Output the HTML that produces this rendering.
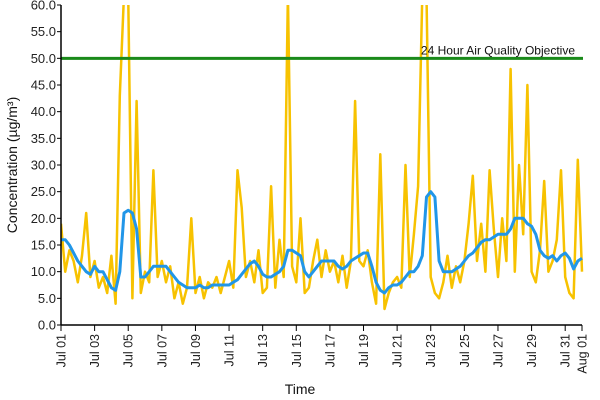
<!DOCTYPE html>
<html><head><meta charset="utf-8"><style>
body{margin:0;background:#fff;}
svg{display:block;font-family:"Liberation Sans",Arial,sans-serif;}
</style></head><body>
<svg id="chart" width="600" height="400" viewBox="0 0 600 400" xmlns="http://www.w3.org/2000/svg">
<g id="grid"></g>
<g id="series"></g>
<g id="axes"></g>
</svg>
<script>
const hourlyValues = [19,10,14,12,8,13,21,9,12,7,9,6,13,4,43,62,62,5,42,6,10,8,29,9,12,8,11,5,8,4,7,20,6,9,5,8,7,9,6,9,12,7,29,22,9,12,8,14,6,7,26,7,16,9,62,11,8,20,6,7,12,16,9,14,10,12,8,13,7,12,42,12,11,14,8,4,32,3,6,8,9,7,30,9,17,26,62,62,9,6,5,8,13,7,11,8,12,19,28,12,19,10,29,18,9,20,12,48,10,30,17,45,10,8,14,27,10,12,16,29,9,6,5,31,10];
const rollingMean = [16,16,15,13.5,12,11,10,9.5,11,10,10,8.5,7,6.5,10,21,21.5,21,18,9,9,10,11,11,11,11,10,9,8,7.5,7,7,7,7.5,7,7,7.5,7.5,7.5,7.5,7.5,8,8.5,9.5,10.5,11.5,12,11,9.5,9,9,9.5,10,11,14,14,13.5,13,10,9,10,11,12,12,12,12,11,10.5,11,12,12.5,13,13.5,13.5,11,8,6.5,6,7,7.5,7.5,8,9,10,10,11,13,24,25,24,12,10,10,10,10.5,11,12,13,13.5,14.5,15.5,16,16,16.5,17,17,17,18,20,20,20,19,18.5,17,14,13,12.5,13,12,13,13.5,12.5,10.5,12,12.5];
const objectiveValue = [50];
const yTicks = [0,5,10,15,20,25,30,35,40,45,50,55,60];
const xTickDays = [0,2,4,6,8,10,12,14,16,18,20,22,24,26,28,30,31];
const xTickLabels = ["Jul 01","Jul 03","Jul 05","Jul 07","Jul 09","Jul 11","Jul 13","Jul 15","Jul 17","Jul 19","Jul 21","Jul 23","Jul 25","Jul 27","Jul 29","Jul 31","Aug 01"];

const NS="http://www.w3.org/2000/svg";
const X0=61,X1=582,Y0=325,Y1=5,YMAX=60,DAYS=31;
const xDay=d=>X0+(X1-X0)*d/DAYS;
const xIdx=i=>xDay(i/4);
const yVal=v=>Y0-(Y0-Y1)*Math.min(v,YMAX+2)/YMAX;
function mk(tag,attrs,parent){const e=document.createElementNS(NS,tag);for(const k in attrs)e.setAttribute(k,attrs[k]);parent.appendChild(e);return e;}
const series=document.getElementById('series'),axes=document.getElementById('axes');

const svg=document.getElementById('chart');
const clip=mk('clipPath',{id:'plotclip'},svg);
mk('rect',{x:X0,y:Y1,width:X1-X0+2,height:Y0-Y1},clip);
series.setAttribute('clip-path','url(#plotclip)');

const yl=mk('polyline',{points:hourlyValues.map((v,i)=>xIdx(i).toFixed(1)+','+yVal(v).toFixed(1)).join(' '),fill:'none',stroke:'#f7c200','stroke-width':2.5,'stroke-linejoin':'round'},series);



const obj=mk('line',{x1:X0,x2:X1+1,y1:yVal(objectiveValue[0]),y2:yVal(objectiveValue[0]),stroke:'#1a8a1a','stroke-width':3},series);



const bl=mk('polyline',{points:rollingMean.map((v,i)=>xIdx(i).toFixed(1)+','+yVal(v).toFixed(1)).join(' '),fill:'none',stroke:'#2196e8','stroke-width':3,'stroke-linejoin':'round'},series);



const ol=mk('text',{x:575,y:yVal(objectiveValue[0])-4,'text-anchor':'end','font-size':12,fill:'#111'},axes);
ol.textContent='24 Hour Air Quality Objective';



const ya=mk('line',{x1:X0,x2:X0,y1:Y1,y2:Y0,stroke:'#000','stroke-width':1.5},axes);


const xa=mk('line',{x1:X0,x2:X1,y1:Y0,y2:Y0,stroke:'#000','stroke-width':1.5},axes);



yTicks.forEach(v=>{
  const y=yVal(v);
  mk('line',{x1:X0-4,x2:X0,y1:y,y2:y,stroke:'#000'},axes);
  const t=mk('text',{x:X0-5,y:y+4.5,'text-anchor':'end','font-size':13,fill:'#222'},axes);
  t.textContent=v.toFixed(1);
  
  
});
xTickDays.forEach((d,i)=>{
  const x=xDay(d);
  mk('line',{x1:x,x2:x,y1:Y0,y2:Y0+6,stroke:'#000'},axes);
  const t=mk('text',{x:0,y:0,'text-anchor':'end','font-size':12.5,fill:'#222',transform:`translate(${x+4.5},${Y0+9}) rotate(-90)`},axes);
  t.textContent=xTickLabels[i];
  
  
});
const xt=mk('text',{x:300,y:394,'text-anchor':'middle','font-size':14,fill:'#111'},axes);
xt.textContent='Time';


const yt=mk('text',{x:0,y:0,'text-anchor':'middle','font-size':14,fill:'#111',transform:'translate(17,165) rotate(-90)'},axes);
yt.textContent='Concentration (µg/m³)';


</script>
</body></html>
